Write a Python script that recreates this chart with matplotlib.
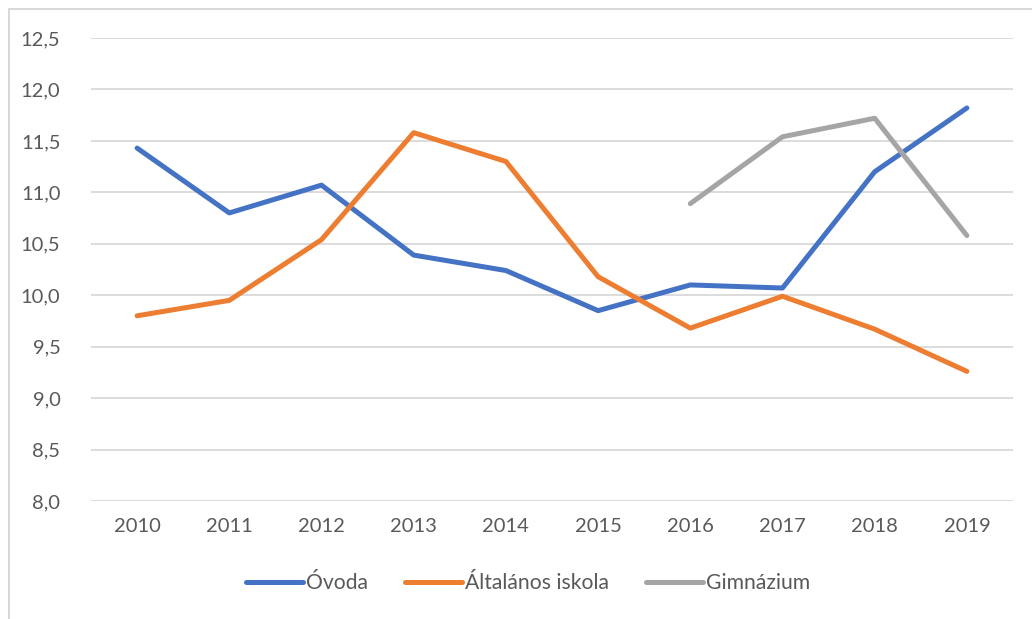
import matplotlib.pyplot as plt
from matplotlib.patches import Rectangle

plt.rcParams['font.family'] = ['Lato', 'DejaVu Sans']

years = ['2010', '2011', '2012', '2013', '2014', '2015', '2016', '2017', '2018', '2019']
ovoda = [11.43, 10.80, 11.07, 10.39, 10.24, 9.85, 10.10, 10.07, 11.20, 11.82]
altalanos = [9.80, 9.95, 10.54, 11.58, 11.30, 10.18, 9.68, 9.99, 9.67, 9.26]
gimn_years = [6, 7, 8, 9]
gimnazium = [10.89, 11.54, 11.72, 10.58]
yticks = [8.0, 8.5, 9.0, 9.5, 10.0, 10.5, 11.0, 11.5, 12.0, 12.5]

text_col = '#595959'
fig = plt.figure(figsize=(10.32, 6.19), dpi=100)
fig.patches.append(Rectangle((9/1032, -0.1), 1.2, 1 - 9/619 + 0.1, transform=fig.transFigure,
                             fill=False, edgecolor='#d9d9d9', linewidth=1.5))

ax = fig.add_axes([91/1032, (619-501)/619, (1013-91)/1032, (501-38)/619])
x = list(range(len(years)))
ax.plot(x, ovoda, color='#4472c4', lw=3.6, solid_capstyle='round', label='Óvoda')
ax.plot(x, altalanos, color='#ed7d31', lw=3.6, solid_capstyle='round', label='Általános iskola')
ax.plot(gimn_years, gimnazium, color='#a5a5a5', lw=3.6, solid_capstyle='round', label='Gimnázium')

ax.set_xlim(-0.5, 9.5)
ax.set_ylim(8.0, 12.5)
ax.set_yticks(yticks)
ax.set_yticklabels([f'{v:.1f}'.replace('.', ',') for v in yticks])
ax.set_xticks(x)
ax.set_xticklabels(years)
ax.grid(axis='y', color='#d9d9d9', lw=1.3)
ax.set_axisbelow(True)
for s in ax.spines.values():
    s.set_visible(False)
ax.tick_params(length=0, labelsize=14.5, colors=text_col, pad=12)
ax.tick_params(axis='y', pad=22)

leg = fig.legend(loc='center', bbox_to_anchor=(528/1032, 1 - 583/619), ncol=3, frameon=False,
                 fontsize=15.2, handlelength=2.7, handletextpad=0.15, columnspacing=1.75)
for t in leg.get_texts():
    t.set_color(text_col)

fig.savefig('out.png', dpi=100)
